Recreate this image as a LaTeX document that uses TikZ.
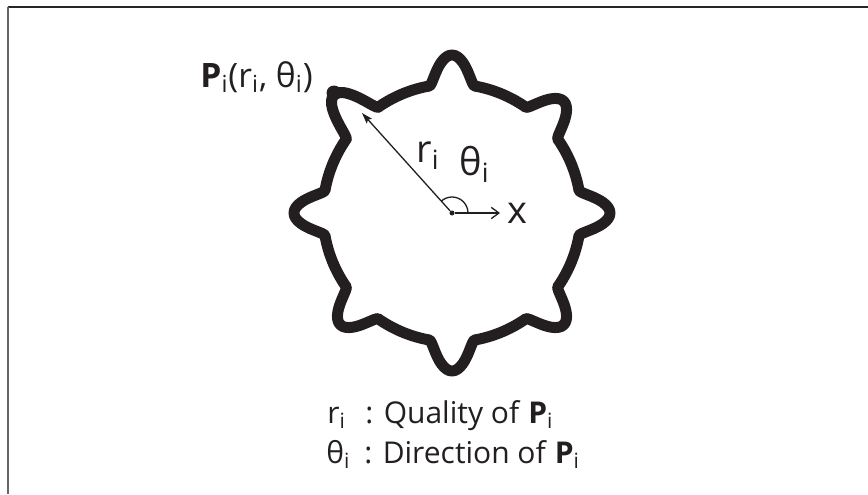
\documentclass[tikz,border=0pt]{standalone}
\usepackage{fontspec}
\setmainfont{Open Sans}
\usetikzlibrary{arrows.meta}

\definecolor{ink}{HTML}{231F20}

\tikzset{
  declare function={
    bd(\t)=\t-45*round(\t/45);
    bu(\t)=max(0,1-bd(\t)*bd(\t)/100);
    blobr(\t)=129+(29+9*(round(\t/45)==3))*bu(\t)*sqrt(bu(\t));
  },
  blob/.style={draw=ink, line width=5.5pt, line join=round},
  vec/.style={draw=ink, line width=0.65pt},
  dot/.style={circle, fill=ink, inner sep=0pt},
  lbl/.style={text=ink, inner sep=0pt, anchor=base west, font=\fontsize{19pt}{22pt}\selectfont},
  legend/.style={text=ink, inner sep=0pt, anchor=base west, font=\fontsize{15pt}{18pt}\selectfont},
}

\begin{document}
\begin{tikzpicture}[x=0.5pt, y=0.5pt]
\useasboundingbox (0,0) rectangle (868,494);

% frame (top and left only)
\draw[line width=1pt, color=black!85] (7.5,486.5) -- (868,486.5);
\draw[line width=1pt, color=black!60] (7.5,486.5) -- (7.5,0);

% outline with eight bumps
\draw[blob] plot[domain=0:359, samples=360, smooth cycle, variable=\t]
  ({452+blobr(\t)*cos(\t)}, {281+blobr(\t)*sin(\t)});

% centre and the point P
\node[dot, minimum size=2.5pt] (ctr) at (452,281) {};
\node[dot, minimum size=7.5pt] (ptP) at (334,401) {};
\coordinate (rtip) at (362,381);
\coordinate (xtip) at (500,281);

% vectors and angle
\draw[vec, -{Stealth[length=5.5pt, width=3.5pt, inset=1pt]}] (ctr) -- (rtip);
\draw[vec, -{Straight Barb[length=3.8pt, width=5.6pt]}] (ctr) -- (xtip);
\draw[vec] (ctr) ++(0:16) arc[start angle=0, end angle=132, radius=16];

% labels
\node[lbl, font=\fontsize{16.8pt}{20pt}\selectfont] (plab) at (200,407)
  {\textbf{P}\textsubscript{i}(r\textsubscript{i}, θ\textsubscript{i})};
\node[lbl] (rlab) at (416,332) {r\textsubscript{i}};
\node[lbl] (thlab) at (459,319) {θ\textsubscript{i}};
\node[lbl] (xlab) at (507,271) {x};

% legend
\node[legend] (leg1) at (327,71)
  {\makebox[19pt][l]{r\textsubscript{i}}: Quality of \textbf{P}\textsubscript{i}};
\node[legend] (leg2) at (326,31)
  {\makebox[19pt][l]{θ\textsubscript{i}}: Direction of \textbf{P}\textsubscript{i}};
\end{tikzpicture}
\end{document}
